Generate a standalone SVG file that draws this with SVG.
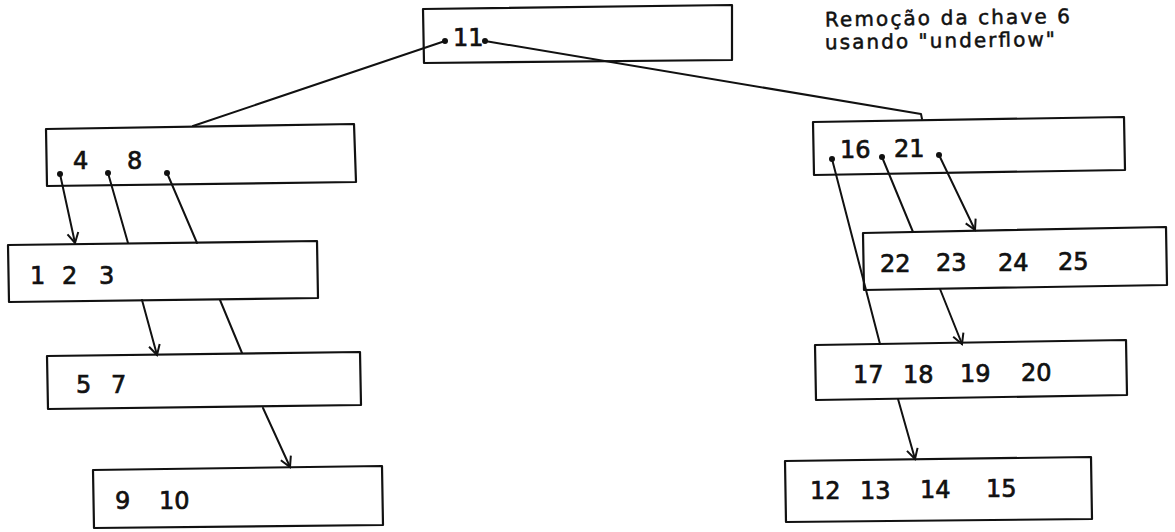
<svg xmlns="http://www.w3.org/2000/svg" width="1175" height="532" viewBox="0 0 1175 532">
  <style>
    .box { fill: #ffffff; stroke: #111; stroke-width: 2.2; stroke-linejoin: round; }
    .lbl { font-family: "DejaVu Sans", "Liberation Sans", sans-serif; font-size: 24px; fill: #111; stroke: #111; stroke-width: 0.7; }
    .ttl { font-family: "DejaVu Sans", "Liberation Sans", sans-serif; font-size: 20px; fill: #111; stroke: #111; stroke-width: 0.5; }
    .edge { fill: none; stroke: #111; stroke-width: 2; stroke-linejoin: round; stroke-linecap: round; }
    .dot { fill: #111; }
  </style>
  <defs>
    <marker id="arr" markerWidth="14" markerHeight="14" refX="12" refY="7" orient="auto" markerUnits="userSpaceOnUse">
      <path d="M2,1.5 L12,7 L2,12.5" fill="none" stroke="#111" stroke-width="2"/>
    </marker>
  </defs>
  <rect width="1175" height="532" fill="#ffffff"/>

  <g id="n11">
    <polygon class="box" points="423,9 732,5 732,60 424,63"/>
    <text class="lbl" x="453" y="46" font-size="22">11</text>
    <circle class="dot" cx="445" cy="41" r="3"/>
    <circle class="dot" cx="485" cy="41" r="3"/>
  </g>

  <g id="n4_8">
    <polygon class="box" points="46,129 354,124 356,182 47,186"/>
    <text class="lbl" x="73" y="169">4</text>
    <text class="lbl" x="127" y="169">8</text>
    <circle class="dot" cx="60" cy="174" r="3"/>
    <circle class="dot" cx="108" cy="173" r="3"/>
    <circle class="dot" cx="167" cy="173" r="3"/>
  </g>

  <g id="n1_2_3">
    <polygon class="box" points="8,245 317,241 318,298 9,302"/>
    <text class="lbl" x="30" y="284">1</text>
    <text class="lbl" x="62" y="284">2</text>
    <text class="lbl" x="99" y="284">3</text>
  </g>

  <g id="n5_7">
    <polygon class="box" points="47,356 360,352 361,405 48,409"/>
    <text class="lbl" x="76" y="393">5</text>
    <text class="lbl" x="111" y="393">7</text>
  </g>

  <g id="n9_10">
    <polygon class="box" points="93,470 382,466 383,525 94,528"/>
    <text class="lbl" x="115" y="509">9</text>
    <text class="lbl" x="159" y="509">10</text>
  </g>

  <g id="n16_21">
    <polygon class="box" points="813,122 1124,117 1125,170 814,175"/>
    <text class="lbl" x="840" y="158">16</text>
    <text class="lbl" x="894" y="157">21</text>
    <circle class="dot" cx="832" cy="159" r="3"/>
    <circle class="dot" cx="882" cy="157" r="3"/>
    <circle class="dot" cx="939" cy="155" r="3"/>
  </g>

  <g id="n22_25">
    <polygon class="box" points="863,233 1166,227 1167,285 864,290"/>
    <text class="lbl" x="880" y="272">22</text>
    <text class="lbl" x="936" y="271">23</text>
    <text class="lbl" x="998" y="271">24</text>
    <text class="lbl" x="1058" y="270">25</text>
  </g>

  <g id="n17_20">
    <polygon class="box" points="815,345 1126,340 1127,395 816,400"/>
    <text class="lbl" x="853" y="383">17</text>
    <text class="lbl" x="903" y="383">18</text>
    <text class="lbl" x="960" y="382">19</text>
    <text class="lbl" x="1021" y="381">20</text>
  </g>

  <g id="n12_15">
    <polygon class="box" points="785,461 1091,457 1092,519 786,522"/>
    <text class="lbl" x="810" y="499">12</text>
    <text class="lbl" x="860" y="499">13</text>
    <text class="lbl" x="920" y="498">14</text>
    <text class="lbl" x="986" y="497">15</text>
  </g>

  <g id="connectors">
    <line class="edge" x1="445" y1="41" x2="193" y2="126"/>
    <polyline class="edge" points="485,41 921,114 922,119"/>
    <line class="edge" x1="60" y1="174" x2="75" y2="243" marker-end="url(#arr)"/>
    <line class="edge" x1="108" y1="173" x2="128" y2="243"/>
    <line class="edge" x1="142" y1="300" x2="157" y2="355" marker-end="url(#arr)"/>
    <line class="edge" x1="167" y1="173" x2="197" y2="243"/>
    <line class="edge" x1="220" y1="300" x2="242" y2="353"/>
    <line class="edge" x1="263" y1="408" x2="290" y2="467" marker-end="url(#arr)"/>
    <line class="edge" x1="939" y1="155" x2="975" y2="230" marker-end="url(#arr)"/>
    <line class="edge" x1="882" y1="157" x2="913" y2="232"/>
    <line class="edge" x1="940" y1="289" x2="962" y2="344" marker-end="url(#arr)"/>
    <line class="edge" x1="832" y1="159" x2="880" y2="344"/>
    <line class="edge" x1="898" y1="399" x2="915" y2="459" marker-end="url(#arr)"/>
  </g>

  <g id="title">
    <text class="ttl" x="825" y="23" textLength="245" lengthAdjust="spacing" transform="rotate(-0.8 1070 23)">Remoção da chave 6</text>
    <text class="ttl" x="825" y="46" textLength="230" lengthAdjust="spacing" transform="rotate(-0.8 1055 46)">usando "underflow"</text>
  </g>
</svg>
